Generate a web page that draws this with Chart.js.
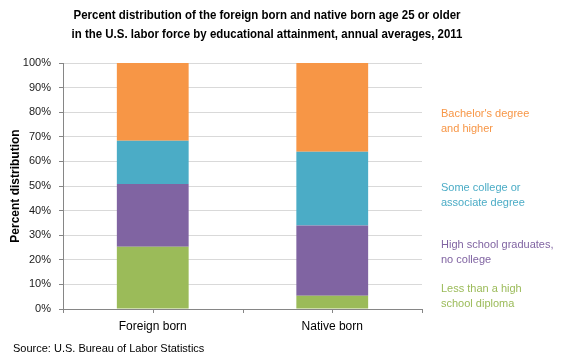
<!DOCTYPE html>
<html>
<head>
<meta charset="utf-8">
<script src="https://cdn.jsdelivr.net/npm/chart.js@4"></script>
<style>
  body { margin: 0; background: #fff; }
  #wrap { position: relative; width: 580px; height: 360px; font-family: "Liberation Sans", Arial, sans-serif; }
  #chart { position: absolute; left: 0; top: 0; }
  #title { position: absolute; left: 0; width: 534px; top: 5px; text-align: center;
    font-weight: bold; font-size: 13.5px; line-height: 19px; color: #000;
    transform: scaleX(0.85); transform-origin: 267px 0; }
  .leg { position: absolute; left: 441px; font-size: 11px; line-height: 14.5px; }
  #source { position: absolute; left: 13px; top: 342px; font-size: 11px; color: #000; }
</style>
</head>
<body>
<div id="wrap">
  <canvas id="chart" width="580" height="360"></canvas>
  <div id="title">Percent distribution of the foreign born and native born age 25 or older<br>in the U.S. labor force by educational attainment, annual averages, 2011</div>
  <div id="legend"></div>
  <div id="source">Source: U.S. Bureau of Labor Statistics</div>
</div>
<script>
// Data
const categories = ['Foreign born', 'Native born'];
const lessThanHighSchool = [25.3, 5.4];
const highSchoolGrad = [25.5, 28.5];
const someCollege = [17.6, 30.0];
const bachelorsPlus = [31.6, 36.1];
const yTicks = [0, 10, 20, 30, 40, 50, 60, 70, 80, 90, 100];

const seriesNames = [
  ['Less than a high', 'school diploma'],
  ['High school graduates,', 'no college'],
  ['Some college or', 'associate degree'],
  ["Bachelor's degree", 'and higher'],
];
const seriesColors = ['#9BBB59', '#8064A2', '#4BACC6', '#F79646'];
const legendTops = [281, 237, 180, 106];

// Legend (text to the right of the plot)
const legendEl = document.getElementById('legend');
seriesNames.forEach((lines, i) => {
  const d = document.createElement('div');
  d.className = 'leg';
  d.style.top = legendTops[i] + 'px';
  d.style.color = seriesColors[i];
  d.innerHTML = lines.join('<br>');
  legendEl.appendChild(d);
});

// Tick marks on the category axis: at centres and between categories
const catTicks = {
  id: 'catTicks',
  afterDraw(chart) {
    const x = chart.scales.x, c = chart.ctx;
    c.save();
    c.strokeStyle = '#868686';
    c.lineWidth = 1;
    for (let i = 0; i <= categories.length * 2; i++) {
      const px = Math.round(x.left + (x.right - x.left) * i / (categories.length * 2)) + 0.5;
      c.beginPath();
      c.moveTo(px, x.top);
      c.lineTo(px, x.top + 4);
      c.stroke();
    }
    c.restore();
  }
};

const ctx = document.getElementById('chart').getContext('2d');
new Chart(ctx, {
  type: 'bar',
  data: {
    labels: categories,
    datasets: [lessThanHighSchool, highSchoolGrad, someCollege, bachelorsPlus].map((d, i) => ({
      label: seriesNames[i].join(' '),
      data: d,
      backgroundColor: seriesColors[i],
      borderWidth: 0,
      categoryPercentage: 0.4,
      barPercentage: 1,
    })),
  },
  options: {
    responsive: false,
    animation: false,
    layout: { padding: { left: 0, right: 158, top: 63, bottom: 0 } },
    plugins: { legend: { display: false }, tooltip: { enabled: false } },
    scales: {
      x: {
        stacked: true,
        grid: { display: false, drawTicks: false },
        border: { color: '#868686' },
        ticks: { color: '#000', font: { family: 'Liberation Sans', size: 12 }, padding: 10 },
        afterFit: s => { s.height = 51; },
      },
      y: {
        stacked: true,
        min: 0,
        max: 100,
        afterBuildTicks: s => { s.ticks = yTicks.map(v => ({ value: v })); },
        grid: { color: '#D9D9D9', tickColor: '#868686', tickLength: 4 },
        border: { color: '#868686' },
        ticks: { color: '#1a1a1a', font: { family: 'Liberation Sans', size: 11 }, padding: 8, callback: v => v + '%' },
        title: { display: true, text: 'Percent distribution', color: '#000', font: { family: 'Liberation Sans', size: 12, weight: 'bold' }, padding: { top: 8, bottom: 0 } },
        afterFit: s => { s.width = 63; },
      },
    },
  },
  plugins: [catTicks],
});
</script>
</body>
</html>
